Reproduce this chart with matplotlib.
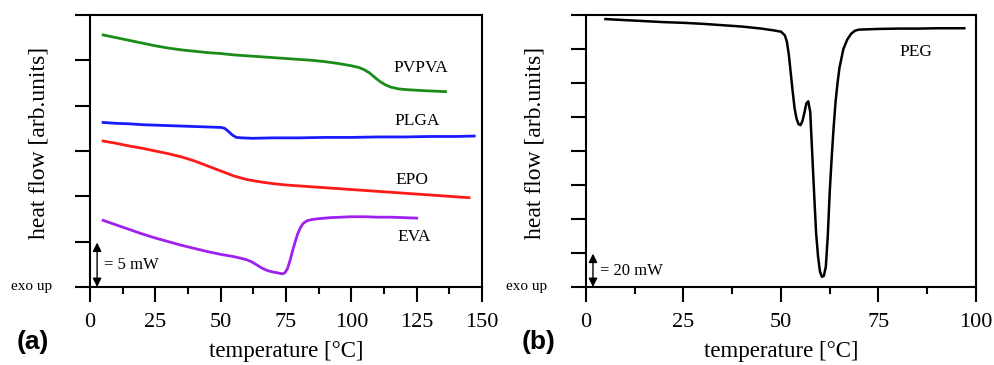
import numpy as np
import matplotlib.pyplot as plt

plt.rcParams['font.family'] = ['Liberation Serif', 'DejaVu Serif']

# DSC curves, panel (a)
pvpva_t = [5, 10, 15, 20, 25, 30, 35, 40, 45, 50, 55, 60, 65, 70, 75, 80, 85, 90, 95,
           100, 103, 105, 107, 109, 111, 113, 115, 118, 122, 128, 136]
pvpva_h = [5.56, 5.50, 5.44, 5.38, 5.32, 5.27, 5.23, 5.20, 5.17, 5.15, 5.12, 5.10, 5.08,
           5.06, 5.04, 5.02, 5.00, 4.97, 4.93, 4.88, 4.84, 4.79, 4.72, 4.62, 4.53, 4.46,
           4.41, 4.37, 4.35, 4.33, 4.31]

plga_t = [5, 10, 15, 20, 25, 30, 35, 40, 45, 50, 51.5, 53, 54.5, 56, 58, 62, 70, 80, 90,
          100, 110, 120, 130, 140, 147]
plga_h = [3.63, 3.61, 3.60, 3.58, 3.57, 3.56, 3.55, 3.54, 3.53, 3.52, 3.50, 3.43, 3.35,
          3.30, 3.29, 3.28, 3.29, 3.29, 3.30, 3.30, 3.31, 3.31, 3.32, 3.32, 3.33]

epo_t = [5, 10, 15, 20, 25, 30, 35, 40, 45, 50, 55, 60, 65, 70, 75, 80, 90, 100, 110,
         120, 130, 140, 145]
epo_h = [3.22, 3.17, 3.11, 3.06, 3.00, 2.94, 2.87, 2.78, 2.67, 2.56, 2.45, 2.37, 2.32,
         2.28, 2.25, 2.23, 2.19, 2.15, 2.11, 2.07, 2.03, 1.99, 1.97]

eva_t = [5, 10, 15, 20, 25, 30, 35, 40, 45, 50, 55, 58, 60, 62, 64, 66, 68, 70, 72, 73.5,
         74.5, 75.5, 76.5, 77.5, 78.5, 79.5, 80.5, 81.5, 83, 85, 88, 92, 96, 100, 105,
         110, 115, 120, 125]
eva_h = [1.47, 1.37, 1.27, 1.17, 1.08, 1.00, 0.92, 0.85, 0.78, 0.72, 0.67, 0.63, 0.60,
         0.55, 0.48, 0.41, 0.36, 0.33, 0.31, 0.29, 0.31, 0.40, 0.58, 0.80, 1.00, 1.18,
         1.31, 1.40, 1.46, 1.49, 1.51, 1.53, 1.54, 1.55, 1.55, 1.54, 1.54, 1.53, 1.52]

# DSC curve, panel (b)
peg_t = [5, 10, 15, 20, 25, 30, 35, 40, 45, 48, 50, 51, 51.5, 52, 52.5, 53, 53.5, 54,
         54.5, 55, 55.5, 56, 56.5, 57, 57.5, 58, 58.5, 59, 59.5, 60, 60.5, 61, 61.5, 62,
         62.5, 63, 63.5, 64, 64.5, 65, 66, 67, 68, 69, 70, 75, 80, 85, 90, 97]
peg_h = [7.88, 7.85, 7.82, 7.79, 7.77, 7.74, 7.70, 7.66, 7.60, 7.55, 7.51, 7.40, 7.22,
         6.85, 6.30, 5.75, 5.25, 4.95, 4.79, 4.76, 4.88, 5.12, 5.40, 5.46, 5.15, 3.95,
         2.75, 1.60, 0.90, 0.45, 0.30, 0.33, 0.60, 1.50, 2.80, 3.80, 4.70, 5.45, 6.00,
         6.45, 7.00, 7.28, 7.45, 7.54, 7.57, 7.59, 7.60, 7.60, 7.61, 7.61]

labels_a = ['PVPVA', 'PLGA', 'EPO', 'EVA']
colors_a = ['#1a8c1a', '#1a1aff', '#ff1a1a', '#a020f0']

fig = plt.figure(figsize=(9.95, 3.65), dpi=100)
ax1 = fig.add_axes([0.0905, 0.2137, 0.394, 0.7452])
ax2 = fig.add_axes([0.5889, 0.2137, 0.392, 0.7452])


def style_axis(ax, xmax, ymax, scale, exo_x, arrow_x):
    # box with outward ticks, no y tick labels
    ax.set_xlim(0, xmax)
    ax.set_ylim(0, ymax)
    ax.set_xticks(np.arange(0, xmax + 1, 25))
    ax.set_xticks(np.arange(12.5, xmax, 25), minor=True)
    ax.set_yticks(np.arange(0, ymax + 1, 1))
    ax.set_yticklabels([])
    ax.tick_params(axis='x', which='major', direction='out', length=11, width=1.5,
                   labelsize=16, pad=8, top=False)
    ax.tick_params(axis='x', which='minor', direction='out', length=5, width=1.5,
                   top=False)
    ax.tick_params(axis='y', direction='out', length=10.5, width=1.5, right=False)
    for s in ax.spines.values():
        s.set_linewidth(1.5)
    ax.set_xlabel('temperature [°C]', fontsize=16.5, labelpad=6)
    ax.set_ylabel('heat flow [arb.units]', fontsize=17, labelpad=15)
    ax.yaxis.label.set_y(0.53)
    ax.text(exo_x, 0, 'exo up', fontsize=11, ha='center', va='center', clip_on=False)
    ax.annotate('', xy=(arrow_x, 0), xytext=(arrow_x, 0.98),
                arrowprops=dict(arrowstyle='<|-|>', color='black', lw=1.0,
                                mutation_scale=13, shrinkA=0, shrinkB=0))
    ax.text(arrow_x * 2.0, 0.48, '= ' + scale, fontsize=12, ha='left', va='center')


# Panel (a)
curves = [(pvpva_t, pvpva_h), (plga_t, plga_h), (epo_t, epo_h), (eva_t, eva_h)]
label_pos = [(116, 4.83), (116.5, 3.66), (117, 2.36), (117.5, 1.1)]
for (t, h), c, lab, pos in zip(curves, colors_a, labels_a, label_pos):
    ax1.plot(t, h, color=c, lw=2.0)
    ax1.text(pos[0], pos[1], lab, fontsize=12.5, ha='left', va='center')
style_axis(ax1, 150, 6, '5 mW', -22.5, 2.7)

# Panel (b)
ax2.plot(peg_t, peg_h, color='black', lw=1.8)
ax2.text(80.5, 6.9, 'PEG', fontsize=12.5, ha='left', va='center')
style_axis(ax2, 100, 8, '20 mW', -15.1, 1.8)

# panel letters
fig.text(0.017, 0.063, '(a)', fontsize=19, fontweight='bold', family='Liberation Sans',
         va='center')
fig.text(0.524, 0.063, '(b)', fontsize=19, fontweight='bold', family='Liberation Sans',
         va='center')

fig.savefig('out.png', dpi=100)
